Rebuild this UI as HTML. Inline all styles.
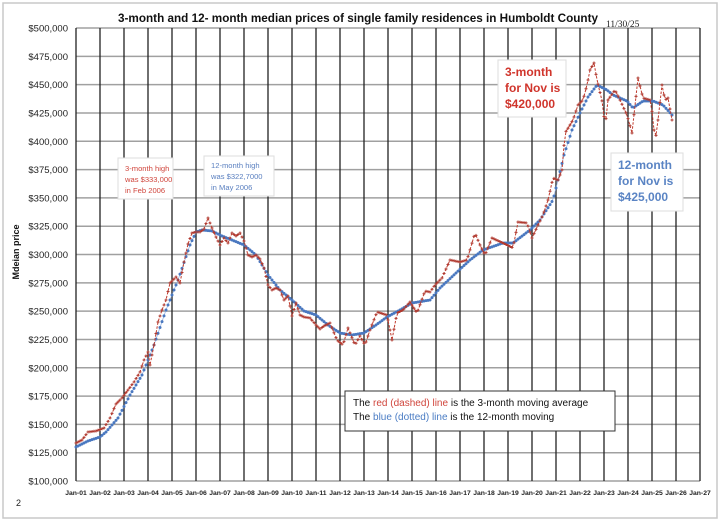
<!DOCTYPE html>
<html><head><meta charset="utf-8"><style>
body{margin:0;background:#fff;width:720px;height:523px;overflow:hidden;font-family:"Liberation Sans",sans-serif}
svg{position:absolute;left:0;top:0}
</style></head><body>
<svg id="s" width="720" height="523" xmlns="http://www.w3.org/2000/svg">
<rect x="3" y="3" width="714" height="515" fill="#fff" stroke="#c8c8c8" stroke-width="1.5"/>
<g id="grid"></g>
<g id="ser"></g>
<text x="358" y="22" text-anchor="middle" font-weight="bold" font-size="12" fill="#111" textLength="480" lengthAdjust="spacingAndGlyphs">3-month and 12- month median prices of single family residences in Humboldt County</text>
<text x="606" y="27" font-family="Liberation Serif,serif" font-size="9.5" fill="#222">11/30/25</text>
<text transform="translate(19,252) rotate(-90)" text-anchor="middle" font-weight="bold" font-size="9" fill="#111">Mdeian price</text>
<text x="16" y="506" font-size="9" fill="#222">2</text>
<g font-size="7.6" fill="#222">
<rect x="118" y="158" width="55" height="41" fill="#fff" stroke="#ddd"/>
<text fill="#d0453c"><tspan x="125" y="171">3-month high</tspan><tspan x="125" y="182">was $333,000</tspan><tspan x="125" y="193">in Feb 2006</tspan></text>
<rect x="204" y="156" width="70" height="40" fill="#fff" stroke="#ddd"/>
<text fill="#5b80c0"><tspan x="211" y="168">12-month high</tspan><tspan x="211" y="179">was $322,7000</tspan><tspan x="211" y="190">in May 2006</tspan></text>
</g>
<g font-size="12" font-weight="bold">
<rect x="498" y="60" width="68" height="57" fill="#fff" stroke="#ddd"/>
<text fill="#d0352c"><tspan x="505" y="76">3-month</tspan><tspan x="505" y="92">for Nov is</tspan><tspan x="505" y="108">$420,000</tspan></text>
<rect x="611" y="153" width="72" height="58" fill="#fff" stroke="#ddd"/>
<text fill="#5a84c4"><tspan x="618" y="169">12-month</tspan><tspan x="618" y="185">for Nov is</tspan><tspan x="618" y="201">$425,000</tspan></text>
</g>
<rect x="345" y="391" width="270" height="40" fill="#fff" stroke="#333" stroke-width="1"/>
<text font-size="10" fill="#111"><tspan x="353" y="406">The <tspan fill="#d0453c">red (dashed) line</tspan> is the 3-month moving average</tspan><tspan x="353" y="420">The <tspan fill="#4a7cc4">blue (dotted) line</tspan> is the 12-month moving</tspan></text>
</svg>
<script>
var NS="http://www.w3.org/2000/svg",g=document.getElementById('grid'),s=document.getElementById('ser');
function el(p,t,a){var e=document.createElementNS(NS,t);for(var k in a)e.setAttribute(k,a[k]);p.appendChild(e);return e;}
var L=76,R=700,T=28,B=481;
for(var i=0;i<=16;i++){var y=T+i*(B-T)/16;el(g,'line',{x1:L,x2:R,y1:y,y2:y,stroke:'#a0a0a0','stroke-width':1.5});
var v=500000-i*25000;var t=el(g,'text',{x:68,y:y+3.5,'text-anchor':'end','font-size':9.5,fill:'#222'});t.textContent='$'+v.toLocaleString('en-US');}
for(var j=0;j<=26;j++){var x=L+j*24;el(g,'line',{x1:x,x2:x,y1:T,y2:B,stroke:'#222','stroke-width':1.3});
var t=el(g,'text',{x:x,y:495,'text-anchor':'middle','font-size':6.8,'font-weight':'bold',fill:'#222'});t.textContent='Jan-'+String(j+1).padStart(2,'0');}
function interp(pts){var out=[];for(var x=76;x<=672;x+=2){for(var k=0;k<pts.length-1;k++){if(x>=pts[k][0]&&x<=pts[k+1][0]){var a=pts[k],b=pts[k+1],f=(x-a[0])/((b[0]-a[0])||1);out.push([x,a[1]+f*(b[1]-a[1])]);break;}}}return out;}
var blue=[[76,447],[88,441],[100,437],[106,432],[118,418],[130,395],[142,375],[154,345],[166,310],[178,280],[190,245],[196,232],[202,230],[212,231],[222,236],[232,240],[244,245],[256,255],[268,275],[280,290],[292,300],[304,311],[316,315],[328,325],[340,333],[352,335],[364,333],[376,325],[387,317],[400,310],[412,303],[430,300],[440,288],[457,272],[470,260],[483,250],[503,243],[513,243],[530,230],[540,220],[553,200],[558,180],[564,155],[572,130],[580,113],[588,97],[597,85],[607,90],[613,95],[627,101],[633,108],[643,101],[653,101],[663,105],[672,115]];
var red=[[76,443],[82,440],[88,432],[96,431],[104,428],[110,418],[116,404],[122,398],[128,390],[134,382],[140,372],[144,360],[148,352],[150,365],[154,345],[158,322],[162,310],[166,300],[170,283],[176,277],[180,283],[184,262],[188,244],[192,233],[196,232],[200,232],[204,229],[208,218],[212,228],[216,237],[220,245],[224,238],[228,243],[232,233],[236,236],[240,233],[244,241],[248,255],[252,257],[256,255],[260,259],[264,268],[268,285],[272,290],[276,288],[280,290],[284,300],[288,296],[292,316],[296,303],[300,315],[304,317],[310,318],[316,325],[320,329],[324,326],[330,323],[337,340],[343,345],[348,328],[355,345],[360,336],[365,345],[370,330],[377,312],[387,315],[392,340],[397,313],[403,310],[410,302],[417,313],[425,291],[430,292],[435,285],[442,278],[450,260],[460,262],[467,260],[475,233],[480,245],[485,255],[492,238],[503,243],[513,248],[518,222],[527,223],[532,238],[538,225],[543,215],[548,200],[553,178],[558,180],[562,170],[565,133],[570,125],[573,120],[578,105],[583,100],[587,85],[590,70],[594,63],[597,80],[603,105],[605,128],[608,100],[615,90],[620,100],[627,115],[632,133],[638,78],[643,98],[650,100],[653,117],[655,143],[658,120],[662,85],[665,100],[668,98],[672,120]];
var bp=interp(blue),rp=interp(red);
function poly(p){return p.map(function(q){return q[0]+','+q[1].toFixed(1)}).join(' ');}
el(s,'polyline',{points:poly(bp),fill:'none',stroke:'#9ab4e0','stroke-width':0.8});
bp.forEach(function(q){el(s,'circle',{cx:q[0],cy:q[1],r:1.5,fill:'#4a78c0'});});
el(s,'polyline',{points:poly(rp),fill:'none',stroke:'#c0392b','stroke-width':1,'stroke-dasharray':'2.5,1.5'});
rp.forEach(function(q){el(s,'path',{d:'M'+(q[0]-1.5)+','+q[1]+'h3M'+q[0]+','+(q[1]-1.5)+'v3',stroke:'#b03a30','stroke-width':1});});
</script>
</body></html>
